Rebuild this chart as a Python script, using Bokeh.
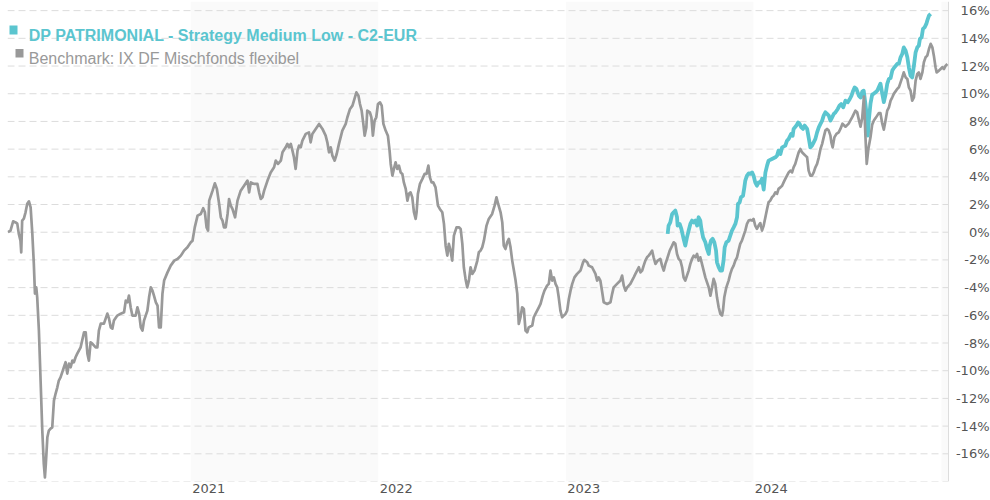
import datetime as dt
from bokeh.plotting import figure
from bokeh.models import Range1d, FixedTicker, Label, BoxAnnotation, DatetimeTickFormatter
from bokeh.core.properties import value
from bokeh.embed import file_html
from bokeh.resources import INLINE

# ---------------- data (decimal years, performance in %) ----------------
bench_t = [
    2020.027, 2020.041, 2020.055, 2020.068, 2020.077, 2020.085, 2020.094, 2020.098, 2020.103, 2020.112,
    2020.121, 2020.130, 2020.139, 2020.148, 2020.157, 2020.165, 2020.171, 2020.178, 2020.183, 2020.192,
    2020.201, 2020.210, 2020.218, 2020.224, 2020.229, 2020.237, 2020.245, 2020.254, 2020.263, 2020.272,
    2020.281, 2020.290, 2020.298, 2020.307, 2020.316, 2020.325, 2020.334, 2020.343, 2020.352, 2020.361,
    2020.370, 2020.378, 2020.387, 2020.396, 2020.414, 2020.432, 2020.441, 2020.450, 2020.458, 2020.467,
    2020.476, 2020.494, 2020.503, 2020.511, 2020.521, 2020.538, 2020.556, 2020.565, 2020.574, 2020.583,
    2020.591, 2020.609, 2020.627, 2020.645, 2020.654, 2020.663, 2020.671, 2020.680, 2020.689, 2020.707,
    2020.716, 2020.725, 2020.734, 2020.743, 2020.751, 2020.769, 2020.778, 2020.787, 2020.796, 2020.804,
    2020.814, 2020.823, 2020.831, 2020.840, 2020.849, 2020.858, 2020.876, 2020.893, 2020.912, 2020.929,
    2020.947, 2020.964, 2020.982, 2021.000,
    2021.009, 2021.021, 2021.036, 2021.053, 2021.066, 2021.075, 2021.084, 2021.092, 2021.098, 2021.116,
    2021.128, 2021.139, 2021.151, 2021.160, 2021.169, 2021.177, 2021.186, 2021.196, 2021.204, 2021.213,
    2021.222, 2021.236, 2021.249, 2021.266, 2021.284, 2021.302, 2021.311, 2021.320, 2021.337, 2021.355,
    2021.364, 2021.373, 2021.382, 2021.391, 2021.409, 2021.426, 2021.444, 2021.453, 2021.465, 2021.480,
    2021.489, 2021.506, 2021.515, 2021.524, 2021.533, 2021.542, 2021.550, 2021.559, 2021.569, 2021.577,
    2021.586, 2021.595, 2021.613, 2021.630, 2021.639, 2021.648, 2021.666, 2021.684, 2021.702, 2021.719,
    2021.728, 2021.737, 2021.746, 2021.755, 2021.767, 2021.778, 2021.790, 2021.808, 2021.826, 2021.835,
    2021.849, 2021.862, 2021.870, 2021.883, 2021.894, 2021.902, 2021.911, 2021.920, 2021.927, 2021.936,
    2021.941, 2021.955, 2021.963, 2021.971, 2021.980, 2021.989, 2021.998, 2022.009, 2022.018, 2022.027,
    2022.039, 2022.051,
    2022.060, 2022.066, 2022.075, 2022.083, 2022.092, 2022.101, 2022.110, 2022.119, 2022.128, 2022.136,
    2022.146, 2022.155, 2022.163, 2022.172, 2022.181, 2022.190, 2022.199, 2022.204, 2022.211, 2022.222,
    2022.235, 2022.247, 2022.257, 2022.267, 2022.275, 2022.284, 2022.293, 2022.305, 2022.318, 2022.328,
    2022.341, 2022.350, 2022.359, 2022.368, 2022.376, 2022.385, 2022.394, 2022.403, 2022.417, 2022.430,
    2022.439, 2022.448, 2022.456, 2022.465, 2022.474, 2022.483, 2022.492, 2022.501, 2022.513, 2022.528,
    2022.536, 2022.545, 2022.554, 2022.563, 2022.577, 2022.589, 2022.607, 2022.620, 2022.630, 2022.639,
    2022.652, 2022.661, 2022.669, 2022.678, 2022.687, 2022.696, 2022.705, 2022.714, 2022.723, 2022.732,
    2022.741, 2022.749, 2022.758, 2022.767, 2022.776, 2022.785, 2022.794, 2022.802, 2022.821, 2022.829,
    2022.838, 2022.856, 2022.865, 2022.877, 2022.886, 2022.900, 2022.909, 2022.918, 2022.927, 2022.936,
    2022.945, 2022.954, 2022.962, 2022.971, 2022.980, 2022.989, 2022.998, 2023.007, 2023.016, 2023.025,
    2023.034, 2023.046, 2023.060, 2023.078,
    2023.092, 2023.099, 2023.114, 2023.122, 2023.140, 2023.158, 2023.167, 2023.175, 2023.184, 2023.194,
    2023.202, 2023.220, 2023.238, 2023.247, 2023.255, 2023.273, 2023.291, 2023.300, 2023.309, 2023.318,
    2023.327, 2023.344, 2023.353, 2023.362, 2023.371, 2023.380, 2023.389, 2023.398, 2023.407, 2023.415,
    2023.424, 2023.433, 2023.442, 2023.451, 2023.460, 2023.468, 2023.478, 2023.490, 2023.504, 2023.513,
    2023.522, 2023.531, 2023.540, 2023.554, 2023.567, 2023.575, 2023.584, 2023.593, 2023.602, 2023.611,
    2023.620, 2023.628, 2023.637, 2023.646, 2023.655, 2023.664, 2023.673, 2023.682, 2023.691, 2023.700,
    2023.708, 2023.717, 2023.726, 2023.735, 2023.744, 2023.753, 2023.762, 2023.771, 2023.780, 2023.788,
    2023.797, 2023.806, 2023.815, 2023.824, 2023.833, 2023.838, 2023.845, 2023.856, 2023.868, 2023.877,
    2023.886, 2023.895, 2023.904, 2023.913, 2023.921, 2023.930, 2023.939, 2023.948, 2023.957, 2023.966,
    2023.975, 2023.984, 2023.993, 2024.001, 2024.010, 2024.019, 2024.028, 2024.037,
    2024.046, 2024.055, 2024.064, 2024.073, 2024.081, 2024.090, 2024.099, 2024.108, 2024.117, 2024.126,
    2024.134, 2024.144, 2024.153, 2024.161, 2024.170, 2024.179, 2024.188, 2024.197, 2024.206, 2024.214,
    2024.223, 2024.233, 2024.241, 2024.250, 2024.259, 2024.268, 2024.277, 2024.286, 2024.294, 2024.303,
    2024.312, 2024.321, 2024.330, 2024.339, 2024.348, 2024.357, 2024.366, 2024.374, 2024.383, 2024.392,
    2024.401, 2024.410, 2024.415, 2024.422, 2024.431, 2024.442, 2024.454, 2024.463,
    2024.474, 2024.490, 2024.507, 2024.526, 2024.543, 2024.552, 2024.561, 2024.570, 2024.579, 2024.588,
    2024.596, 2024.603, 2024.612, 2024.623, 2024.632, 2024.641, 2024.650, 2024.667, 2024.676, 2024.685,
    2024.694, 2024.703, 2024.712, 2024.721, 2024.730, 2024.739, 2024.747, 2024.765, 2024.774, 2024.783,
    2024.792, 2024.800, 2024.810, 2024.819, 2024.827, 2024.836, 2024.845, 2024.854, 2024.863, 2024.872,
    2024.880, 2024.889, 2024.899, 2024.907, 2024.916, 2024.925, 2024.934, 2024.943, 2024.952, 2024.960,
    2024.969, 2024.975, 2024.987, 2024.996, 2025.005, 2025.014, 2025.023, 2025.032,
]
bench_v = [
    0.00, 0.12, 0.79, 0.71, 0.62, -0.10, -0.61, -1.45, 0.84, 0.98,
    1.44, 2.06, 2.23, 1.80, -0.10, -2.27, -4.43, -3.98, -4.70, -7.10,
    -10.71, -14.32, -16.71, -17.70, -16.71, -14.81, -14.32, -14.18, -14.09, -12.16,
    -11.65, -11.20, -10.71, -10.48, -10.12, -9.75, -9.39, -10.21, -9.49, -9.75,
    -9.27, -9.39, -9.03, -8.77, -8.31, -7.23, -7.23, -8.77, -9.27, -7.95,
    -8.04, -8.31, -8.31, -7.10, -6.60, -6.60, -5.88, -6.24, -6.87, -6.96,
    -6.38, -6.02, -5.88, -5.78, -4.94, -5.06, -4.58, -5.42, -6.02, -6.02,
    -5.42, -5.88, -6.87, -7.10, -6.38, -5.66, -4.70, -3.98, -4.22, -4.58,
    -5.06, -5.30, -6.87, -6.87, -4.45, -3.49, -2.90, -2.41, -2.05, -1.93,
    -1.69, -1.33, -1.09, -0.73,
    -0.61, 0.35, 1.20, 1.32, 1.73, 1.44, 0.35, 0.12, 2.28, 3.00,
    3.53, 3.13, 2.04, 1.08, 0.84, 0.35, 0.35, 1.32, 2.40, 1.92,
    1.68, 1.08, 2.28, 3.00, 3.36, 3.73, 2.88, 3.60, 3.49, 3.49,
    2.88, 2.40, 2.52, 3.00, 3.73, 4.32, 4.69, 5.17, 4.93, 5.17,
    5.77, 6.13, 6.38, 6.13, 6.38, 5.89, 5.41, 4.57, 5.89, 6.25,
    6.13, 6.61, 7.10, 7.21, 6.49, 7.10, 7.46, 7.82, 7.46, 6.97,
    6.49, 5.77, 6.13, 5.53, 5.17, 5.65, 6.38, 7.34, 7.82, 8.30,
    8.90, 9.14, 9.50, 10.10, 9.86, 9.26, 8.78, 7.82, 6.97, 7.57,
    8.78, 8.66, 8.30, 6.97, 8.06, 8.30, 9.26, 9.38, 9.14, 7.82,
    7.34, 6.97,
    5.89, 4.93, 4.09, 4.57, 5.05, 4.57, 4.81, 4.32, 4.21, 3.60,
    3.13, 2.28, 2.77, 2.88, 2.52, 1.44, 0.96, 1.44, 2.77, 3.49,
    3.85, 4.21, 4.21, 4.81, 3.96, 3.60, 3.60, 3.24, 1.92, 1.68,
    1.44, 0.60, -0.97, -1.69, -0.84, -1.33, -2.05, -0.25, 0.35, 0.35,
    0.24, -0.84, -2.53, -3.37, -3.98, -3.49, -2.53, -3.01, -2.77, -2.05,
    -1.45, -1.33, -1.09, -0.61, 0.48, 0.96, 1.32, 1.92, 2.52, 2.04,
    1.44, 0.71, -0.97, -1.21, -0.73, -0.48, -1.09, -2.05, -2.77, -3.49,
    -4.45, -6.62, -6.14, -5.42, -5.54, -7.10, -7.23, -6.87, -6.74, -6.14,
    -5.90, -5.42, -5.18, -4.58, -4.22, -3.86, -3.73, -2.77, -3.49, -3.26,
    -3.73, -3.98, -4.70, -5.66, -6.14, -6.02, -5.90, -5.66, -4.82, -4.22,
    -3.73, -3.26, -3.01, -2.77,
    -2.17, -2.00, -2.17, -2.41, -2.53, -3.01, -3.49, -3.26, -3.49, -4.34,
    -5.06, -5.18, -5.06, -4.45, -3.98, -3.73, -3.49, -3.13, -3.86, -4.22,
    -3.98, -3.73, -3.49, -3.26, -3.01, -2.77, -2.53, -2.90, -2.77, -2.41,
    -2.05, -1.81, -1.69, -1.52, -1.33, -1.81, -2.29, -2.05, -1.93, -2.41,
    -2.77, -2.29, -1.93, -1.33, -0.97, -0.73, -0.84, -1.57, -1.93, -2.05,
    -2.53, -3.26, -3.49, -3.13, -2.77, -2.29, -1.93, -1.69, -1.81, -1.57,
    -2.05, -1.81, -2.29, -2.77, -3.26, -3.62, -3.98, -4.58, -3.98, -3.37,
    -3.73, -4.70, -5.42, -5.90, -6.02, -5.66, -4.70, -3.98, -3.49, -3.01,
    -2.65, -2.41, -2.05, -1.81, -1.33, -0.84, -0.61, -0.25, 0.12, 0.60,
    0.84, 0.89, 0.84, 0.96, 0.48, 0.24, 0.48, 0.66,
    0.12, 0.48, 1.08, 1.68, 2.16, 2.28, 2.52, 2.64, 2.88, 2.77,
    3.13, 3.24, 3.36, 3.60, 3.85, 4.09, 4.32, 4.45, 4.32, 4.69,
    4.93, 5.41, 5.77, 6.01, 5.77, 5.65, 5.53, 5.41, 4.45, 4.09,
    4.09, 4.32, 4.69, 4.93, 5.41, 6.01, 6.38, 6.85, 7.34, 7.46,
    7.34, 6.97, 6.49, 6.13, 6.85, 7.10, 7.21, 7.46,
    7.84, 7.62, 7.84, 8.31, 8.78, 8.67, 8.13, 7.62, 8.24, 9.79,
    6.97, 4.93, 6.04, 6.85, 7.77, 8.06, 8.24, 8.60, 8.60, 7.88,
    7.41, 8.06, 8.78, 9.02, 9.50, 9.74, 9.99, 10.35, 10.46, 10.82,
    11.18, 11.54, 11.18, 11.07, 10.46, 10.22, 9.50, 9.74, 10.95, 11.43,
    11.54, 11.07, 11.54, 12.27, 12.63, 12.75, 13.23, 13.60, 13.35, 12.75,
    11.91, 11.54, 11.67, 11.79, 11.91, 11.79, 12.03, 12.15,
]

fund_t = [
    2023.543, 2023.548, 2023.557, 2023.567, 2023.575, 2023.584, 2023.593, 2023.596, 2023.607, 2023.616,
    2023.628, 2023.637, 2023.646, 2023.655, 2023.664, 2023.673, 2023.682, 2023.691, 2023.700, 2023.708,
    2023.717, 2023.723, 2023.732, 2023.744, 2023.753, 2023.762, 2023.767, 2023.774, 2023.783, 2023.792,
    2023.801, 2023.806, 2023.815, 2023.824, 2023.833, 2023.841, 2023.847, 2023.856, 2023.868, 2023.877,
    2023.886, 2023.895, 2023.904, 2023.913, 2023.918, 2023.927, 2023.934, 2023.945, 2023.952, 2023.957,
    2023.966, 2023.975, 2023.984, 2023.993, 2024.001, 2024.010, 2024.019, 2024.028, 2024.037, 2024.046,
    2024.055, 2024.064, 2024.073, 2024.081, 2024.099, 2024.117, 2024.126, 2024.134, 2024.144, 2024.153,
    2024.170, 2024.179, 2024.188, 2024.201, 2024.209, 2024.214, 2024.229, 2024.238, 2024.246, 2024.255,
    2024.264, 2024.273, 2024.286, 2024.294, 2024.303, 2024.312, 2024.321, 2024.330, 2024.339, 2024.348,
    2024.357, 2024.366, 2024.374, 2024.383, 2024.392, 2024.401, 2024.410, 2024.419, 2024.428, 2024.437,
    2024.449, 2024.458, 2024.467, 2024.478, 2024.490, 2024.502, 2024.513, 2024.522, 2024.531, 2024.539,
    2024.548, 2024.561, 2024.570, 2024.579, 2024.587, 2024.596, 2024.602, 2024.609, 2024.614, 2024.623,
    2024.632, 2024.641, 2024.650, 2024.659, 2024.667, 2024.676, 2024.685, 2024.694, 2024.703, 2024.712,
    2024.721, 2024.730, 2024.739, 2024.747, 2024.765, 2024.774, 2024.783, 2024.792, 2024.800, 2024.810,
    2024.819, 2024.827, 2024.836, 2024.845, 2024.854, 2024.863, 2024.872, 2024.880, 2024.886, 2024.895,
    2024.902, 2024.911, 2024.920, 2024.925, 2024.934, 2024.943,
]
fund_v = [
    -0.12, 0.48, 0.71, 1.32, 1.44, 1.56, 1.08, 0.48, 0.60, 0.24,
    -0.48, -0.97, -0.37, 0.12, 0.60, 0.84, 0.71, 0.84, 0.48, 1.08,
    0.84, 0.24, -0.37, -0.73, -1.21, -1.57, -0.97, -0.61, -0.48, -0.73,
    -1.33, -2.17, -2.53, -2.77, -2.77, -2.05, -1.09, -0.73, -0.61, -0.25,
    0.12, 0.35, 0.60, 1.08, 2.04, 2.16, 2.52, 2.64, 3.24, 3.73,
    4.09, 4.25, 4.21, 4.32, 4.09, 3.60, 3.36, 3.60, 3.58, 3.87,
    3.08, 4.30, 4.81, 5.17, 5.29, 5.41, 5.53, 5.89, 5.65, 6.13,
    6.25, 6.61, 6.74, 7.10, 6.97, 7.46, 7.70, 7.93, 7.82, 7.57,
    7.46, 7.70, 7.46, 6.85, 6.13, 6.25, 6.49, 6.74, 7.21, 7.57,
    7.82, 8.06, 8.42, 8.66, 8.54, 8.42, 8.06, 8.30, 8.54, 8.66,
    8.90, 9.14, 9.26, 9.02, 9.50, 9.38, 9.62, 9.86, 10.22, 10.46,
    10.35, 9.86, 9.72, 10.15, 10.22, 9.26, 8.54, 6.97, 8.06, 9.28,
    9.93, 10.01, 10.10, 10.22, 10.46, 10.73, 10.04, 9.39, 9.93, 10.71,
    11.07, 11.13, 11.67, 11.85, 12.15, 12.17, 12.63, 12.87, 13.35, 13.11,
    12.63, 11.91, 11.31, 11.18, 12.03, 12.99, 13.35, 13.47, 13.96, 14.07,
    14.68, 14.79, 15.04, 15.28, 15.64, 15.76,
]

y_ticks = list(range(-16, 17, 2))
grid_levels = list(range(-18, 17, 2))
tick_years = [2021, 2022, 2023, 2024]
shaded_years = [2021, 2023, 2025]

fund_name = "DP PATRIMONIAL - Strategy Medium Low - C2-EUR"
bench_name = "Benchmark: IX DF Mischfonds flexibel"

TEAL = "#5bc5cf"
GREY = "#999999"

# view window (decimal years) and end of the plotting area
VIEW_START, VIEW_END, PLOT_END = 2020.025, 2025.262, 2025.038
Y_MIN, Y_MAX = -18, 16.66


def to_dt(t):
    y = int(t)
    a = dt.datetime(y, 1, 1)
    b = dt.datetime(y + 1, 1, 1)
    return a + (b - a) * (t - y)


def to_ms(d):
    return (d - dt.datetime(1970, 1, 1)).total_seconds() * 1000.0


p = figure(
    frame_width=983, frame_height=480,
    x_axis_type="datetime", y_axis_location=None,
    x_range=Range1d(to_dt(VIEW_START), to_dt(VIEW_END)),
    y_range=Range1d(Y_MIN, Y_MAX),
    toolbar_location=None, output_backend="svg",
    min_border=0, min_border_left=0, min_border_right=0, min_border_top=0,
    outline_line_color=None, background_fill_color="white", border_fill_color="white",
)
p.margin = (1, 0, 0, 7)
p.grid.visible = False

# alternating year shading
p.quad(left=[to_dt(y) for y in shaded_years],
       right=[min(to_dt(y + 1), to_dt(PLOT_END)) for y in shaded_years],
       bottom=Y_MIN, top=Y_MAX, fill_color="#fafafa", line_color=None)

# dashed horizontal grid lines
p.segment(x0=[to_dt(VIEW_START)] * len(grid_levels), x1=[to_dt(PLOT_END)] * len(grid_levels),
          y0=grid_levels, y1=grid_levels, line_color="#dcdcdc", line_width=1, line_dash="7 4")
# right border of plotting area
p.segment(x0=[to_dt(PLOT_END)], x1=[to_dt(PLOT_END)], y0=[Y_MIN], y1=[Y_MAX],
          line_color="#dddddd", line_width=1)

# series
p.line([to_dt(t) for t in fund_t], fund_v, line_color=TEAL, line_width=3.8, line_join="round")
p.line([to_dt(t) for t in bench_t], bench_v, line_color=GREY, line_width=2.7, line_join="round")

# y tick labels (right side, right aligned)
p.text(x=[to_dt(VIEW_END)] * len(y_ticks), y=y_ticks, text=[f"{v}%" for v in y_ticks],
       text_align="right", text_baseline="middle", x_offset=-1,
       text_font=value("DejaVu Sans"), text_font_size="13px", text_color="#555555")

# x axis: year labels starting at each year boundary
ax = p.xaxis[0]
ax.ticker = FixedTicker(ticks=[to_ms(to_dt(y) + dt.timedelta(days=35)) for y in tick_years])
ax.formatter = DatetimeTickFormatter(years="%Y", months="%Y", days="%Y", hours="%Y",
                                     minutes="%Y", seconds="%Y", milliseconds="%Y")
ax.axis_line_color = None
ax.major_tick_line_color = None
ax.minor_tick_line_color = None
ax.major_tick_out = 0
ax.major_label_standoff = 2
ax.major_label_text_font = "DejaVu Sans"
ax.major_label_text_font_size = "13px"
ax.major_label_text_color = "#555555"

# legend
p.add_layout(BoxAnnotation(left=2, right=10, top=456, bottom=447,
                           left_units="screen", right_units="screen",
                           top_units="screen", bottom_units="screen",
                           fill_color=TEAL, fill_alpha=1, line_color=None))
p.add_layout(BoxAnnotation(left=8, right=16, top=432.5, bottom=424,
                           left_units="screen", right_units="screen",
                           top_units="screen", bottom_units="screen",
                           fill_color=GREY, fill_alpha=1, line_color=None))
p.add_layout(Label(x=21.3, y=446, x_units="screen", y_units="screen", text=fund_name,
                   text_font="Liberation Sans", text_font_size="16px", text_font_style="bold",
                   text_color=TEAL, text_baseline="alphabetic"))
p.add_layout(Label(x=21.3, y=422.7, x_units="screen", y_units="screen", text=bench_name,
                   text_font="Liberation Sans", text_font_size="16px",
                   text_color=GREY, text_baseline="alphabetic"))

open("out.html", "w").write(file_html(p, INLINE))
